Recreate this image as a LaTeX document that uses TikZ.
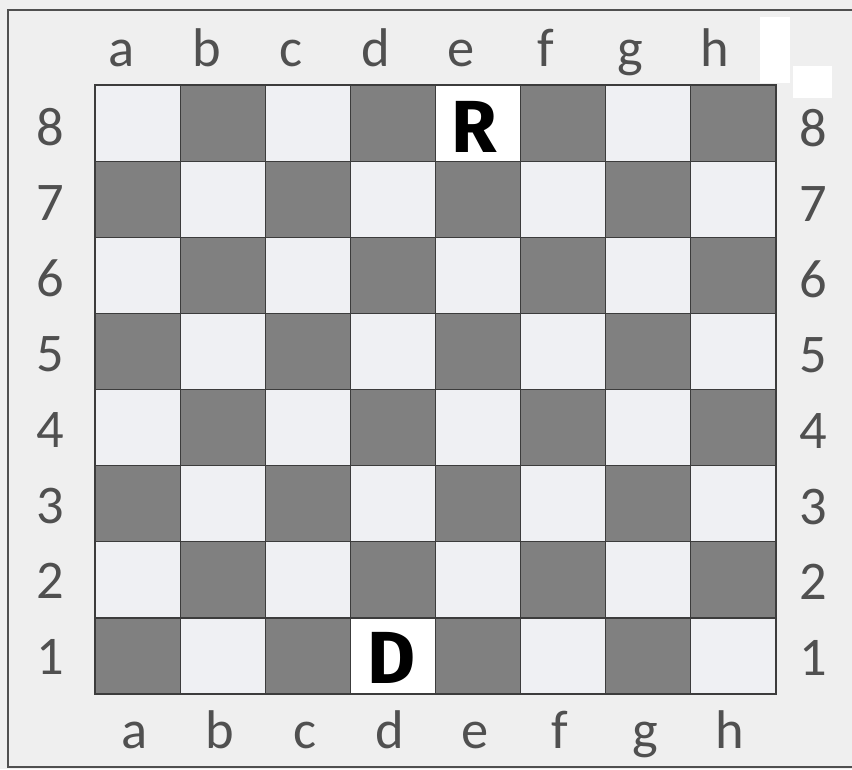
\documentclass[tikz,border=0pt]{standalone}
\usepackage{fontspec}
\setmainfont{Carlito}
\newfontfamily\piecefont{Fira Sans}
\usepackage{tikz}
\usetikzlibrary{positioning, calc}

\definecolor{paper}{HTML}{EFEFEF}
\definecolor{lightsq}{HTML}{EFF0F3}
\definecolor{darksq}{HTML}{808080}
\definecolor{gridline}{HTML}{3C3C3C}
\definecolor{labelgray}{HTML}{505050}

\begin{document}
\begin{tikzpicture}[
  x=0.02cm, y=-0.02cm,
  coordlab/.style={font=\fontsize{31}{31}\selectfont, text=labelgray, inner sep=0pt, anchor=base},
  piece/.style={font=\piecefont\bfseries\fontsize{42}{42}\selectfont, text=black, inner sep=0pt, anchor=base},
  sq/.style={draw=gridline, line width=0.7pt}
]
  % paper and frame
  \fill[paper] (0,0) rectangle (852,769);
  \useasboundingbox (0,0) rectangle (852,769);
  \fill[white] (760,17) rectangle (790,83);
  \fill[white] (793,66) rectangle (832,98);
  \draw[labelgray, line width=1.2pt] (852,10) -- (8,10) -- (8,767) -- (852,767);

  % squares
  \foreach \i in {0,...,7} {
    \foreach \r in {1,...,8} {
      \pgfmathtruncatemacro{\odd}{mod(\i+\r,2)}
      \ifnum\odd=1
        \filldraw[sq, fill=darksq] (95+\i*85.125, 85+8*76.125-\r*76.125) rectangle ++(85.125,76.125);
      \else
        \filldraw[sq, fill=lightsq] (95+\i*85.125, 85+8*76.125-\r*76.125) rectangle ++(85.125,76.125);
      \fi
    }
  }

  % white squares under the pieces
  \filldraw[sq, fill=white] (95+4*85.125,85) rectangle ++(85.125,76.125);
  \filldraw[sq, fill=white] (95+3*85.125,85+7*76.125) rectangle ++(85.125,76.125);
  \draw[gridline, line width=1.2pt] (95,85) rectangle (776,694);

  % files
  \foreach \f [count=\i from 0] in {a,b,c,d,e,f,g,h} {
    \node[coordlab] (top-\f) at (122+\i*84.7,66) {\f};
    \node[coordlab] (bot-\f) at (135+\i*85,748) {\f};
  }
  % ranks
  \foreach \r in {1,...,8} {
    \node[coordlab] (left-\r) at (50,145+8*75.6-\r*75.6) {\r};
    \node[coordlab] (right-\r) at (813,146+8*75.6-\r*75.6) {\r};
  }

  % pieces
  \node[piece] (rook) at (474,152) {R};
  \node[piece] (queen) at (392,683) {D};
\end{tikzpicture}
\end{document}
